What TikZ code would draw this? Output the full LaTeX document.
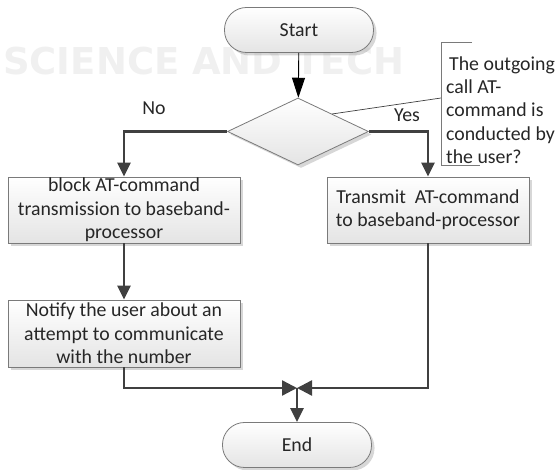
\documentclass[tikz,border=0pt]{standalone}
\usepackage{fontspec}
\setmainfont{Carlito}
\newfontfamily\markfont{DejaVu Sans}
\usetikzlibrary{arrows.meta,shapes.geometric,shadows}

\definecolor{linegray}{HTML}{404040}
\definecolor{edgegray}{HTML}{7A7A7A}
\definecolor{fillgray}{HTML}{E4E4E4}
\definecolor{textgray}{HTML}{262626}

\begin{document}
\begin{tikzpicture}[x=1pt,y=-1pt,
  basefont/.style={font=\fontsize{19.8}{23.3}\selectfont, text=textgray},
  softshadow/.style={drop shadow={shadow xshift=3pt,shadow yshift=-3pt,fill=black!35,opacity=0.45}},
  procbox/.style={basefont, draw=edgegray, line width=0.8pt, top color=white, bottom color=fillgray,
    minimum height=66pt, inner sep=0pt, align=center, softshadow},
  terminal/.style={basefont, draw=edgegray, line width=0.8pt, top color=white, bottom color=fillgray,
    rounded corners=22pt, minimum width=149pt, minimum height=45pt, inner sep=0pt, softshadow},
  decision/.style={diamond, draw=edgegray, line width=0.8pt, top color=white, bottom color=fillgray,
    minimum width=141pt, minimum height=67pt, inner sep=0pt, softshadow},
  flow/.style={draw=linegray, line width=2.4pt, -{Triangle[length=14pt,width=13pt]}},
  startflow/.style={draw=black, line width=0.9pt, -{Triangle[length=20pt,width=13pt]}},
  calloutline/.style={draw=linegray, line width=0.7pt},
  tag/.style={basefont, inner sep=0pt}
]
\useasboundingbox (0,0) rectangle (558,470);

% faint publisher mark in the background
\node[anchor=base west, inner sep=0pt, text=black!6,
      font=\markfont\bfseries\fontsize{37}{37}\selectfont] (mark) at (3,75) {SCIENCE AND TECH};

% nodes
\node[terminal] (start) at (299,30) {Start};
\node[decision] (dec) at (298,131.5) {};
\node[procbox, minimum width=232pt] (block) at (124,210)
  {block AT-command\\transmission to baseband-\\processor};
\node[procbox, minimum width=232pt, minimum height=67pt] (notify) at (124,333.5)
  {Notify the user about an\\attempt to communicate\\with the number};
\node[procbox, minimum width=202pt] (transmit) at (428,210)
  {Transmit\ \ AT-command\\to baseband-processor};
\node[terminal] (end) at (297,445) {End};

% condition callout
\coordinate (cfoot) at (332,114);
\coordinate (ctop) at (472,42);
\coordinate (ccorner) at (441,42);
\coordinate (cjoin) at (441,98);
\coordinate (cbottom) at (441,165);
\coordinate (cend) at (480,165);
\draw[calloutline] (cfoot) -- (cjoin);
\draw[calloutline, draw=edgegray] (ctop) -- (ccorner) -- (cbottom) -- (cend);
\node[basefont, anchor=west, align=left, inner sep=0pt] (cond) at (446,110)
  {\hspace{3pt}The outgoing\\call AT-\\command is\\conducted by\\the user?};

% branch labels
\node[tag] (no) at (154,108) {No};
\node[tag] (yes) at (407,115) {Yes};

% connectors
\coordinate (merge) at (297,388);
\draw[startflow] (start) -- (dec);
\draw[flow] (dec.west) -| (block.north);
\draw[flow] (dec.east) -| (transmit.north);
\draw[flow] (block) -- (notify);
\draw[flow, -{Triangle[length=15pt,width=15pt]}] (notify.south) |- (merge);
\draw[flow, -{Triangle[length=15pt,width=15pt]}] (transmit.south) |- (merge);
\draw[flow] (merge) -- (end);
\end{tikzpicture}
\end{document}
